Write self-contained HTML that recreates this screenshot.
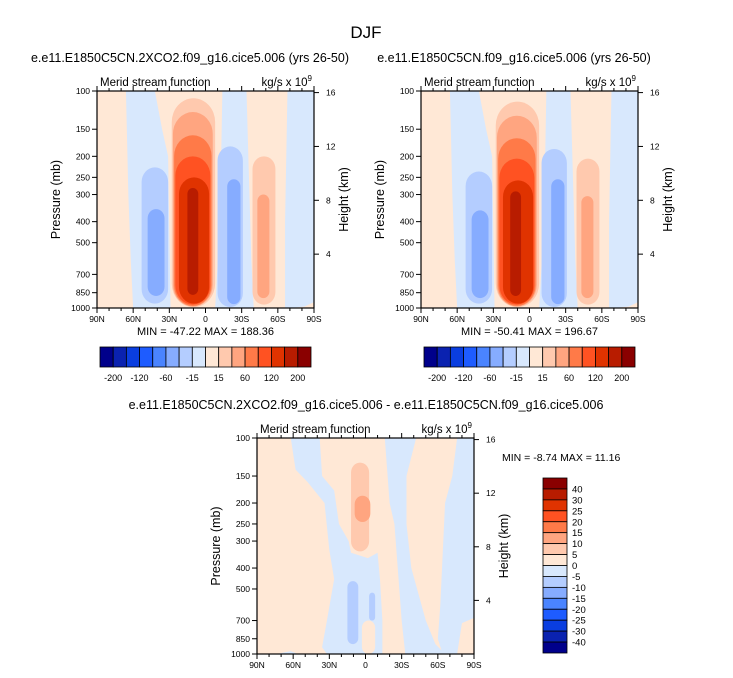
<!DOCTYPE html>
<html><head><meta charset="utf-8"><style>
body{margin:0;background:#fff;}
svg{display:block;font-family:"Liberation Sans",sans-serif;}
</style></head><body>
<svg id="c" width="733" height="678" viewBox="0 0 733 678">
<text x="366" y="38" font-size="17" text-anchor="middle">DJF</text>
<text x="190" y="62" font-size="12.5" text-anchor="middle">e.e11.E1850C5CN.2XCO2.f09_g16.cice5.006 (yrs 26-50)</text>
<text x="514" y="62" font-size="12.5" text-anchor="middle">e.e11.E1850C5CN.f09_g16.cice5.006 (yrs 26-50)</text>
<text x="366" y="409" font-size="12.5" text-anchor="middle">e.e11.E1850C5CN.2XCO2.f09_g16.cice5.006 - e.e11.E1850C5CN.f09_g16.cice5.006</text>
</svg>
<script>
const colors=["#00008b","#0a22b0","#0a3ee0","#1e5cff","#4a84ff","#86acff","#b4cdff","#d8e8fd","#ffe8d6","#ffc9ae","#ffa580","#ff7a48","#ff5222","#e03300","#b81c00","#8a0000"];
const latTicks=[-90,-60,-30,0,30,60,90];
const latLabels=["90N","60N","30N","0","30S","60S","90S"];
const presTicks=[100,150,200,250,300,400,500,700,850,1000];
const htTicks=[4,8,12,16];
const cb1Labels=["-200","-120","-60","-15","15","60","120","200"];
const cb3Labels=["40","30","25","20","15","10","5","0","-5","-10","-15","-20","-25","-30","-40"];
const p1Bands=[
 {lev:7,pts:[[-66,100],[-42,100],[-36,150],[-31,200],[-29,1000],[-60,1000],[-62,600],[-64,300]]},
 {lev:7,pts:[[14,100],[34,100],[38,600],[40,1000],[8,1000],[12,400]]},
 {lev:7,pts:[[68,100],[90,100],[90,940],[82,985],[70,1000],[66,1000],[66,400]]}
];
const p1Blobs=[
 [-28,8,108,992,9],[-27,6,125,985,10],[-26,5,160,978,11],[-25,4,200,965,12],[-22,3,250,955,13],[-15,-6,280,870,14],
 [10,31,180,990,6],[18,29,255,960,5],
 [39,58,200,965,9],[43,53,300,900,10],
 [-53,-31,225,955,6],[-48,-34,350,880,5]
];
const p2Blobs=[
 [-28,8,112,992,9],[-27,6,130,985,10],[-26,5,165,978,11],[-25,4,205,965,12],[-22,3,258,955,13],[-16,-7,290,880,14],
 [10,31,185,990,6],[18,29,255,960,5],
 [39,58,205,965,9],[43,53,305,900,10],
 [-53,-31,235,955,6],[-48,-34,355,900,5]
];
const p3Bands=[
 {lev:7,pts:[[-62,100],[-38,100],[-36,150],[-26,175],[-22,250],[-14,300],[-12,340],[2,360],[10,340],[12,450],[14,700],[14,1000],[-32,1000],[-36,930],[-32,700],[-26,450],[-30,330],[-34,200],[-48,160],[-58,140]]},
 {lev:7,pts:[[16,100],[42,100],[34,150],[34,250],[38,400],[50,700],[58,900],[66,1000],[33,1000],[30,700],[24,250],[20,200]]},
 {lev:7,pts:[[76,100],[90,100],[90,680],[80,720],[76,1000],[64,1000],[60,850],[62,600],[66,200],[72,150]]},
 {lev:7,pts:[[-74,1000],[-62,970],[-56,1000]]}
];
const p3Blobs=[
 [-12,3,130,335,9],[-9,4,185,245,10],
 [-15,-6,460,900,6],[3,8,520,700,6],[-3,8,700,1000,8]
];
const svg=document.getElementById('c');
const NS="http://www.w3.org/2000/svg";
function mk(tag,attrs,parent){const e=document.createElementNS(NS,tag);for(const k in attrs)e.setAttribute(k,attrs[k]);(parent||svg).appendChild(e);return e;}
function panel(x0,y0,w,h,bands,blobs,id,minmax,cbar){
 const X=lat=>x0+(lat+90)/180*w;
 const Y=p=>y0+Math.log10(p/100)*h;
 const g=mk('g',{});
 
 
 const cp=mk('clipPath',{id:id+'-clip'},g);mk('rect',{x:x0,y:y0,width:w,height:h},cp);
 const fg=mk('g',{'clip-path':'url(#'+id+'-clip)'},g);
 const bg=mk('rect',{x:x0,y:y0,width:w,height:h,fill:colors[8]},fg);
 
 
 bands.forEach(b=>{const e=mk('polygon',{points:b.pts.map(q=>X(q[0])+','+Y(q[1])).join(' '),fill:colors[b.lev]},fg);
  
  });
 blobs.forEach(b=>{const x1=X(b[0]),x2=X(b[1]),y1=Y(b[2]),y2=Y(b[3]);const rw=(x2-x1)/2;
  const e=mk('rect',{x:x1,y:y1,width:x2-x1,height:y2-y1,rx:rw,ry:Math.min(rw*1.1,(y2-y1)/2),fill:colors[b[4]]},fg);
  
  });
 const fr=mk('rect',{x:x0,y:y0,width:w,height:h,fill:'none',stroke:'#000','stroke-width':1.2},g);
 
 
 for(let lat=-90;lat<=90;lat+=10){const big=lat%30===0;mk('line',{x1:X(lat),x2:X(lat),y1:y0+h,y2:y0+h+(big?5:3),stroke:'#000'},g);mk('line',{x1:X(lat),x2:X(lat),y1:y0,y2:y0-(big?5:3),stroke:'#000'},g);}
 latTicks.forEach((lat,i)=>{const t=mk('text',{x:X(lat),y:y0+h+14,'font-size':8.5,'text-anchor':'middle'},g);t.textContent=latLabels[i];
  
  });
 presTicks.forEach(p=>{mk('line',{x1:x0,x2:x0-5,y1:Y(p),y2:Y(p),stroke:'#000'},g);const t=mk('text',{x:x0-7,y:Y(p)+3,'font-size':8.5,'text-anchor':'end'},g);t.textContent=p;
  
  });
 htTicks.forEach(z=>{const yy=Y(1000*Math.exp(-z/7.0));mk('line',{x1:x0+w,x2:x0+w+5,y1:yy,y2:yy,stroke:'#000'},g);const t=mk('text',{x:x0+w+12,y:yy+3,'font-size':8.5},g);t.textContent=z;
  
  });
 let t=mk('text',{x:x0+3,y:y0-5,'font-size':11.5},g);t.textContent='Merid stream function';
 
 
 t=mk('text',{x:x0+w-2,y:y0-5,'font-size':11.5,'text-anchor':'end'},g);t.innerHTML='kg/s x 10<tspan dy="-5" font-size="8">9</tspan>';
 
 
 t=mk('text',{transform:`translate(${x0-37},${y0+h/2}) rotate(-90)`,'font-size':12.5,'text-anchor':'middle'},g);t.textContent='Pressure (mb)';
 
 
 t=mk('text',{transform:`translate(${x0+w+34},${y0+h/2}) rotate(-90)`,'font-size':12.5,'text-anchor':'middle'},g);t.textContent='Height (km)';
 
 
 if(minmax){t=mk('text',{x:x0+w/2,y:y0+h+27,'font-size':11,'text-anchor':'middle'},g);t.textContent=minmax;
  
  }
 if(cbar){const cx=x0+3,cy=y0+h+39,bw=(w-6)/16;
  colors.forEach((c,i)=>{const r=mk('rect',{x:cx+i*bw,y:cy,width:bw,height:20,fill:c,stroke:'#000','stroke-width':0.8},g);
   
   });
  cb1Labels.forEach((l,i)=>{const tt=mk('text',{x:cx+(1+2*i)*bw,y:cy+34,'font-size':9,'text-anchor':'middle'},g);tt.textContent=l;
   
   });}
}
panel(97,91,217,217,p1Bands,p1Blobs,'panel-2xco2','MIN = -47.22  MAX = 188.36',true);
panel(421,91,217,217,p1Bands,p2Blobs,'panel-control','MIN = -50.41  MAX = 196.67',true);
panel(257,438,217,216,p3Bands,p3Blobs,'panel-difference',null,false);
let t=mk('text',{x:502,y:461,'font-size':10.5});t.textContent='MIN = -8.74  MAX = 11.16';


const bh=175/16;
colors.slice().reverse().forEach((c,i)=>{const r=mk('rect',{x:543,y:478+i*bh,width:24,height:bh,fill:c,stroke:'#000','stroke-width':0.8});
 
 });
cb3Labels.forEach((l,i)=>{const tt=mk('text',{x:572,y:478+(i+1)*bh+3.5,'font-size':9.5});tt.textContent=l;
 
 });
</script>
</body></html>
